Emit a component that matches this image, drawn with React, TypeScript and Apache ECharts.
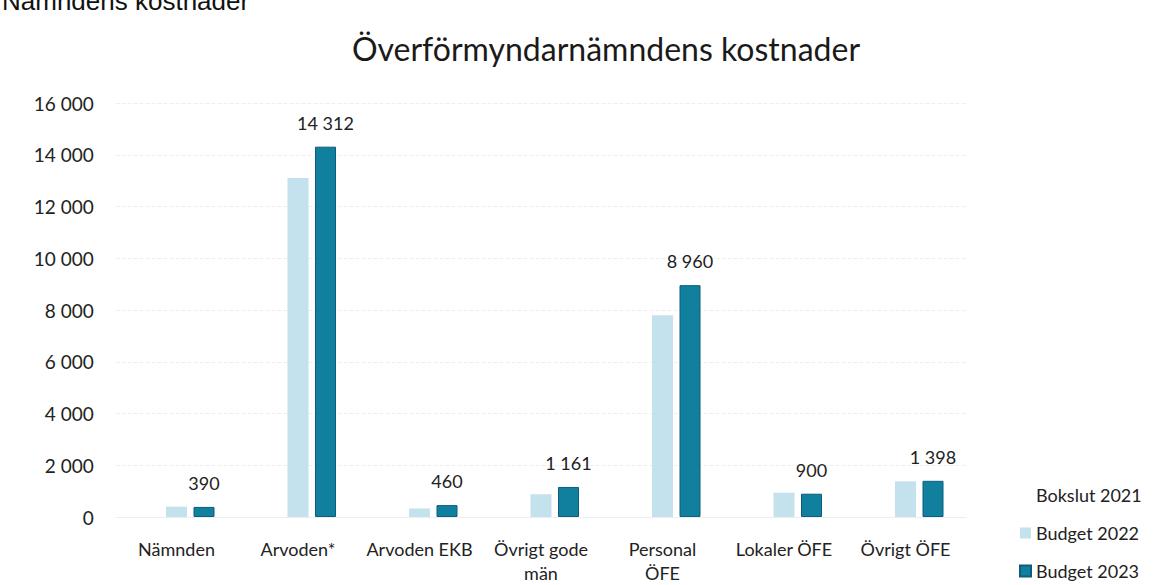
import React, { useEffect, useRef } from "react";
import * as echarts from "echarts";

const categories = [
  "Nämnden",
  "Arvoden*",
  "Arvoden EKB",
  "Övrigt gode\nmän",
  "Personal\nÖFE",
  "Lokaler ÖFE",
  "Övrigt ÖFE",
];
const seriesNames = ["Bokslut 2021", "Budget 2022", "Budget 2023"];
const bokslut2021: (number | null)[] = [null, null, null, null, null, null, null];
const budget2022 = [400, 13100, 330, 880, 7800, 940, 1380];
const budget2023 = [390, 14312, 460, 1161, 8960, 900, 1398];
const yTicks = { min: 0, max: 16000, interval: 2000 };

const FONT = "Lato, 'Open Sans', sans-serif";
const fmt = (v: number) => String(Math.round(v)).replace(/\B(?=(\d{3})+(?!\d))/g, " ");

export default function App() {
  const ref = useRef<HTMLDivElement>(null);
  useEffect(() => {
    if (!ref.current) return;
    const chart = echarts.init(ref.current, null, { renderer: "svg" });
    chart.setOption({
      animation: false,
      backgroundColor: "#ffffff",
      title: {
        text: "Överförmyndarnämndens kostnader",
        left: 601,
        top: 27,
        textAlign: "center",
        textStyle: { fontFamily: FONT, fontSize: 32, fontWeight: "normal", color: "#1a1a1a" },
      },
      graphic: [
        {
          type: "text",
          left: 2,
          top: -12,
          style: {
            text: "Nämndens kostnader",
            fontFamily: "'Liberation Sans', Arial, sans-serif",
            fontSize: 26,
            fill: "#111",
          },
        },
      ],
      legend: {
        orient: "vertical",
        left: 1014,
        top: 481,
        itemWidth: 11,
        itemHeight: 11,
        itemGap: 20,
        icon: "rect",
        data: seriesNames,
        textStyle: { fontFamily: FONT, fontSize: 18, color: "#222" },
      },
      grid: { left: 115.75, right: 186.75, top: 103, bottom: 67, containLabel: false },
      xAxis: {
        type: "category",
        data: categories,
        axisLine: { show: true, lineStyle: { color: "#eeeeee" } },
        axisTick: { show: false },
        axisLabel: {
          interval: 0,
          fontFamily: FONT,
          fontSize: 18,
          color: "#222",
          margin: 20,
          lineHeight: 24,
        },
      },
      yAxis: {
        type: "value",
        min: yTicks.min,
        max: yTicks.max,
        interval: yTicks.interval,
        axisLine: { show: false },
        axisTick: { show: false },
        splitLine: { lineStyle: { color: "#eeeeee", type: "dashed" } },
        axisLabel: {
          fontFamily: FONT,
          fontSize: 19,
          color: "#222",
          margin: 22,
          formatter: (v: number) => fmt(v),
        },
      },
      series: [
        {
          name: seriesNames[0],
          type: "bar",
          data: bokslut2021,
          barWidth: 21,
          barGap: "31%",
          itemStyle: { color: "rgba(0,0,0,0)" },
        },
        {
          name: seriesNames[1],
          type: "bar",
          data: budget2022,
          barWidth: 21,
          barGap: "31%",
          itemStyle: { color: "#c4e2ed" },
        },
        {
          name: seriesNames[2],
          type: "bar",
          data: budget2023,
          barWidth: 21,
          barGap: "31%",
          itemStyle: { color: "#11809f", borderColor: "#0c5d7d", borderWidth: 1 },
          label: {
            show: true,
            position: "top",
            distance: 15,
            fontFamily: FONT,
            fontSize: 18,
            color: "#222",
            formatter: (p: any) => fmt(p.value),
          },
        },
      ],
    });
    return () => chart.dispose();
  }, []);
  return (
    <div
      ref={ref}
      style={{ position: "fixed", left: 0, top: 0, width: 1153, height: 585 }}
    />
  );
}
